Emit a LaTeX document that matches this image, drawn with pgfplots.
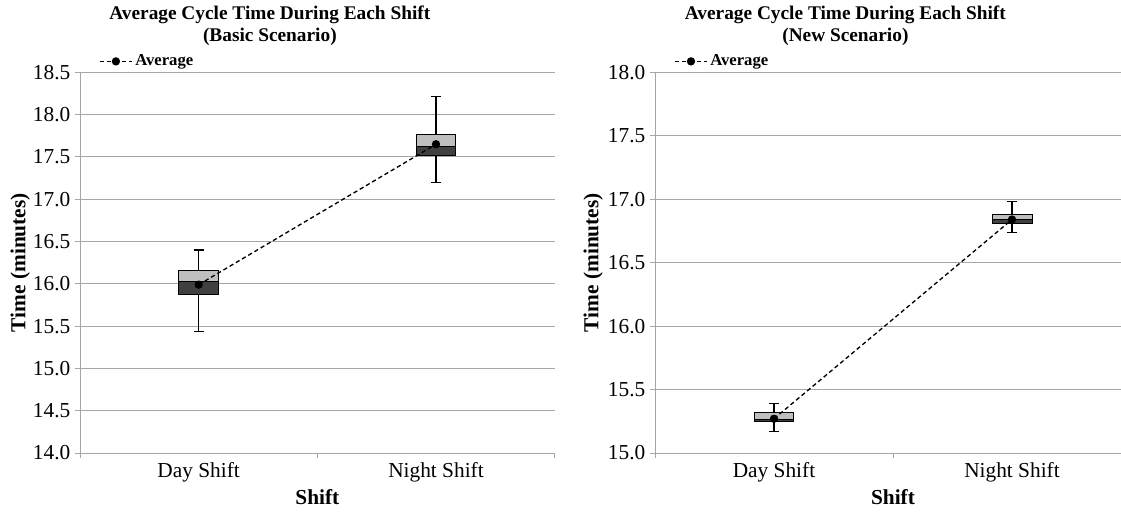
\documentclass[border=0pt]{standalone}
\usepackage{fontspec}
\setmainfont{Liberation Serif}
\usepackage{pgfplots}
\pgfplotsset{compat=1.18}

\definecolor{gridgray}{HTML}{A6A6A6}
\definecolor{boxlight}{HTML}{BFBFBF}
\definecolor{boxdark}{HTML}{404040}

\newcommand{\ticksize}{\fontsize{16}{19}\selectfont}
\newcommand{\titlesize}{\fontsize{14.5}{16.8}\selectfont}
\newcommand{\legsize}{\fontsize{12.5}{15}\selectfont}

\pgfplotsset{
  cycaxis/.style={
    scale only axis,
    width=356pt, height=285.5pt,
    xmin=-0.5, xmax=1.5,
    xtick={0,1}, xticklabels={Day Shift, Night Shift},
    major x tick style={draw=none},
    extra x ticks={-0.5,0.5,1.5}, extra x tick labels={},
    extra x tick style={grid=none, major tick length=3.75pt,
      major x tick style={draw=gridgray, line width=0.75pt}},
    axis x line*=bottom, axis y line*=left,
    axis line style={gridgray, line width=0.75pt, -},
    ymajorgrids, grid style={gridgray, line width=0.75pt},
    tick align=outside, major tick length=3.75pt,
    y tick style={gridgray, line width=0.75pt},
    ytick distance=0.5,
    tick label style={font=\ticksize},
    /pgf/number format/.cd, fixed, fixed zerofill, precision=1, assume math mode=true,
    /pgfplots/.cd,
    xlabel={Shift}, ylabel={Time (minutes)},
    every axis x label/.style={at={(axis description cs:0.5,-0.117)},
      anchor=center, font=\ticksize\bfseries},
    title style={font=\titlesize\bfseries, align=center, anchor=south,
      inner sep=0pt, yshift=13.5pt, at={(0.4,1)}},
    legend style={draw=none, fill=none, at={(0.04,1.004)}, anchor=south west,
      font=\legsize\bfseries, inner sep=0pt, row sep=0pt},
    legend image code/.code={%
      \draw[mark repeat=2, mark phase=2, #1] plot coordinates {(0pt,0pt) (12pt,0pt) (24pt,0pt)};},
  },
  lowbox/.style={draw=black, line width=0.75pt, fill=boxdark, forget plot},
  highbox/.style={draw=black, line width=0.75pt, fill=boxlight, forget plot},
  whisk/.style={forget plot, draw=none, mark=none,
    error bars/.cd, y dir=both, y explicit,
    error bar style={solid, draw=black, line width=0.9pt},
    error mark options={draw=black, line width=0.9pt, mark size=3.75pt, rotate=90}},
  avgline/.style={black, line width=1pt, dash pattern=on 3.2pt off 2.2pt,
    mark=*, mark size=2.6pt, mark options={solid}},
}

\begin{document}
\begin{tikzpicture}
\useasboundingbox (0,0) rectangle (840.75pt,384pt);

% Basic scenario
\begin{axis}[cycaxis, at={(60pt,44.25pt)}, anchor=south west,
  ymin=14, ymax=18.5,
  every axis y label/.style={at={(axis description cs:-0.126,0.5)},
    rotate=90, anchor=center, font=\ticksize\bfseries},
  title={Average Cycle Time During Each Shift\\(Basic Scenario)}]
  % whiskers: centre +- half range
  \addplot[whisk] coordinates {(0,15.92) +- (0,0.48) (1,17.705) +- (0,0.505)};
  % boxes: lower part Q1..median, upper part median..Q3
  \addplot[lowbox]  coordinates {(-0.084,15.87) (0.084,15.87) (0.084,16.03) (-0.084,16.03)} -- cycle;
  \addplot[highbox] coordinates {(-0.084,16.03) (0.084,16.03) (0.084,16.16) (-0.084,16.16)} -- cycle;
  \addplot[lowbox]  coordinates {(0.916,17.52) (1.084,17.52) (1.084,17.62) (0.916,17.62)} -- cycle;
  \addplot[highbox] coordinates {(0.916,17.62) (1.084,17.62) (1.084,17.77) (0.916,17.77)} -- cycle;
  \addplot[avgline] coordinates {(0,15.99) (1,17.65)};
  \addlegendentry{Average}
\end{axis}

% New scenario
\begin{axis}[cycaxis, at={(491.25pt,44.25pt)}, anchor=south west,
  width=357pt,
  ymin=15, ymax=18,
  every axis y label/.style={at={(axis description cs:-0.130,0.5)},
    rotate=90, anchor=center, font=\ticksize\bfseries},
  title={Average Cycle Time During Each Shift\\(New Scenario)}]
  \addplot[whisk] coordinates {(0,15.28) +- (0,0.11) (1,16.86) +- (0,0.12)};
  \addplot[lowbox]  coordinates {(-0.084,15.245) (0.084,15.245) (0.084,15.265) (-0.084,15.265)} -- cycle;
  \addplot[highbox] coordinates {(-0.084,15.265) (0.084,15.265) (0.084,15.32) (-0.084,15.32)} -- cycle;
  \addplot[lowbox]  coordinates {(0.916,16.805) (1.084,16.805) (1.084,16.84) (0.916,16.84)} -- cycle;
  \addplot[highbox] coordinates {(0.916,16.84) (1.084,16.84) (1.084,16.88) (0.916,16.88)} -- cycle;
  \addplot[avgline] coordinates {(0,15.27) (1,16.84)};
  \addlegendentry{Average}
\end{axis}
\end{tikzpicture}
\end{document}
